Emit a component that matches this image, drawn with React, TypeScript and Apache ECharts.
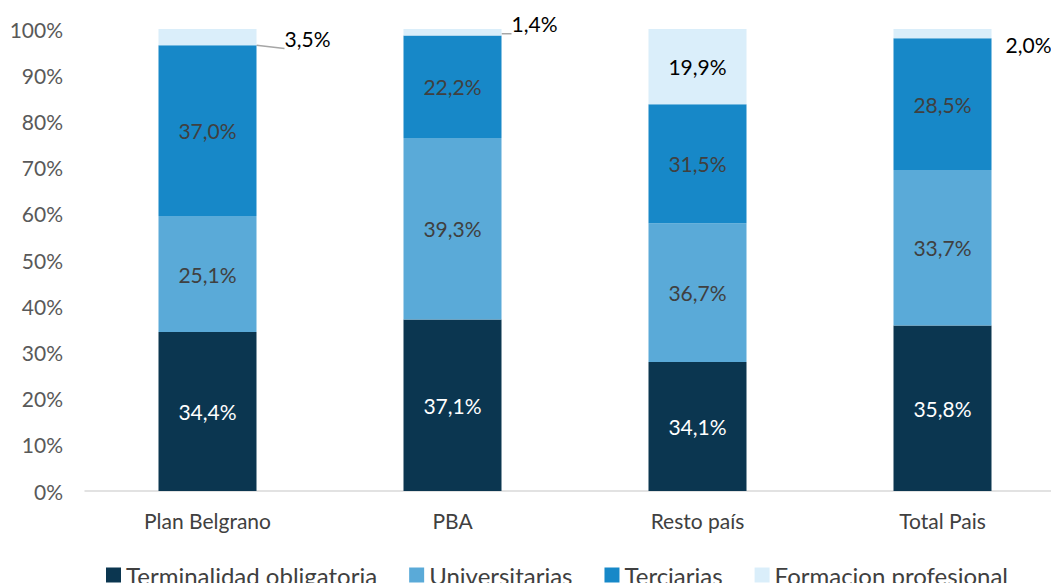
import React, { useEffect, useRef } from "react";
import * as echarts from "echarts";

const categories = ["Plan Belgrano", "PBA", "Resto país", "Total Pais"];
const seriesNames = ["Terminalidad obligatoria", "Universitarias", "Terciarias", "Formacion profesional"];
const terminalidad = [34.4, 37.1, 34.1, 35.8];
const universitarias = [25.1, 39.3, 36.7, 33.7];
const terciarias = [37.0, 22.2, 31.5, 28.5];
const formacion = [3.5, 1.4, 19.9, 2.0];
const yTicks = [0, 10, 20, 30, 40, 50, 60, 70, 80, 90, 100];

const colors = ["#0b3650", "#5aaad8", "#1788c8", "#daeefa"];
const labelColors = ["#ffffff", "#404040", "#404040", "#000000"];
const FONT = "Lato, 'Open Sans', sans-serif";

const fmt = (v: number) => v.toFixed(1).replace(".", ",") + "%";

export default function App() {
  const ref = useRef<HTMLDivElement>(null);
  useEffect(() => {
    if (!ref.current) return;
    const chart = echarts.init(ref.current, null, { renderer: "svg" });
    const raw = [terminalidad, universitarias, terciarias, formacion];
    const totals = categories.map((_, i) => raw.reduce((s, arr) => s + arr[i], 0));

    const series = raw.map((arr, si) => ({
      name: seriesNames[si],
      type: "bar",
      stack: "total",
      barWidth: "40%",
      itemStyle: { color: colors[si] },
      label: {
        show: true,
        position: "inside",
        color: labelColors[si],
        fontSize: 21,
        fontFamily: FONT,
        formatter: (p: any) => fmt(arr[p.dataIndex]),
      },
      data: arr.map((v, i) => {
        const item: any = { value: (v / totals[i]) * 100 };
        if (si === 3) {
          if (i === 0) {
            item.label = { position: "right", distance: 28, offset: [0, 1] };
            item.labelLine = { show: true, lineStyle: { color: "#a6a6a6", width: 1.5 } };
          } else if (i === 1) {
            item.label = { position: "right", distance: 10, offset: [0, -9] };
            item.labelLine = { show: true, lineStyle: { color: "#a6a6a6", width: 1.5 } };
          } else if (i === 3) {
            item.label = { position: "right", distance: 14, offset: [0, 11] };
          }
        }
        return item;
      }),
    }));

    chart.setOption({
      animation: false,
      textStyle: { fontFamily: FONT },
      grid: { left: 85, top: 29, width: 980, height: 462, containLabel: false },
      legend: {
        data: seriesNames,
        left: 101,
        top: 558,
        itemWidth: 15,
        itemHeight: 15,
        itemGap: 32,
        icon: "rect",
        textStyle: { fontSize: 24, color: "#404040", fontFamily: FONT },
      },
      xAxis: {
        type: "category",
        data: categories,
        axisTick: { show: false },
        axisLine: { lineStyle: { color: "#d9d9d9", width: 1.5 } },
        axisLabel: { fontSize: 21, color: "#404040", margin: 19, fontFamily: FONT },
      },
      yAxis: {
        type: "value",
        min: yTicks[0],
        max: yTicks[yTicks.length - 1],
        interval: 10,
        splitLine: { show: false },
        axisLine: { show: false },
        axisTick: { show: false },
        axisLabel: { fontSize: 21, color: "#595959", margin: 22, formatter: "{value}%", fontFamily: FONT },
      },
      series,
    });
    return () => chart.dispose();
  }, []);
  return (
    <div
      ref={ref}
      style={{ position: "fixed", left: 0, top: 0, width: 1075, height: 583, background: "#fff" }}
    />
  );
}
